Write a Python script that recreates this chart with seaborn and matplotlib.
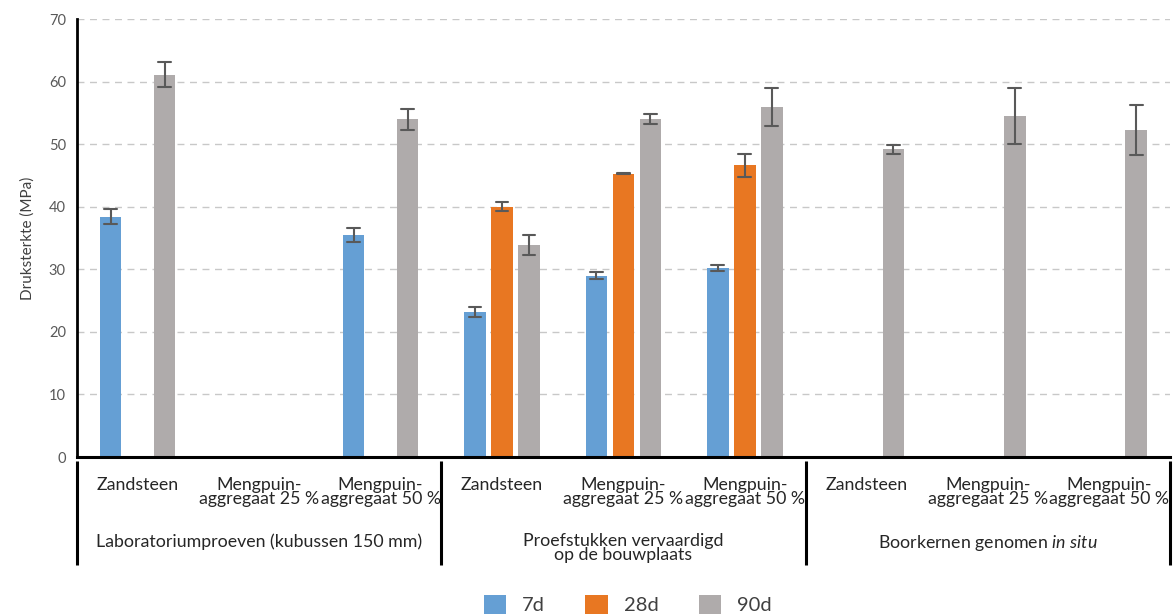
import numpy as np
import pandas as pd
import seaborn as sns
import matplotlib.pyplot as plt

nan = np.nan

# category labels
groups = ["Laboratoriumproeven (kubussen 150 mm)",
          "Proefstukken vervaardigd\nop de bouwplaats",
          "Boorkernen genomen $\\it{in\\ situ}$"]
materials = ["Zandsteen", "Mengpuin-\naggregaat 25 %", "Mengpuin-\naggregaat 50 %"]
ages = ["7d", "28d", "90d"]

# mean compressive strength (MPa), 9 categories = 3 groups x 3 materials
mean_7d = [38.4, nan, 35.5, 23.2, 29.0, 30.2, nan, nan, nan]
mean_28d = [nan, nan, nan, 40.0, 45.3, 46.6, nan, nan, nan]
mean_90d = [61.1, nan, 54.0, 33.9, 54.0, 56.0, 49.2, 54.5, 52.3]

# half width of error bars
err_7d = [1.2, nan, 1.1, 0.8, 0.55, 0.45, nan, nan, nan]
err_28d = [nan, nan, nan, 0.75, 0.1, 1.8, nan, nan, nan]
err_90d = [2.0, nan, 1.7, 1.65, 0.85, 3.05, 0.7, 4.4, 4.0]

colors = ["#659FD4", "#E87722", "#AFABAB"]

cats = [f"{g}|{m}" for g in range(3) for m in range(3)]

rows = []
for age, means, errs in zip(ages, [mean_7d, mean_28d, mean_90d], [err_7d, err_28d, err_90d]):
    for c, m, e in zip(cats, means, errs):
        if np.isnan(m):
            continue
        # two points per bar -> mean = value, min/max = error range
        rows.append({"cat": c, "age": age, "val": m - e})
        rows.append({"cat": c, "age": age, "val": m + e})
df = pd.DataFrame(rows)

sns.set_style("white")
plt.rcParams['font.family'] = ['Lato', 'DejaVu Sans']
plt.rcParams['mathtext.fontset'] = 'custom'
plt.rcParams['mathtext.rm'] = 'Lato'
plt.rcParams['mathtext.it'] = 'Lato:italic'

fig = plt.figure(figsize=(11.73, 6.14), dpi=100)
ax = fig.add_axes([0.0656, 0.2557, 0.9318, 0.7133])

sns.barplot(data=df, x="cat", y="val", hue="age", order=cats, hue_order=ages,
            palette=colors, estimator="mean",
            errorbar=lambda v: (v.min(), v.max()),
            width=0.667, gap=0.2, capsize=0.32,
            err_kws={"color": "#595959", "linewidth": 1.5},
            linewidth=0, saturation=1, ax=ax)

ax.set_xlim(-0.5, 8.5)
ax.set_ylim(0, 70)
ax.set_yticks(range(0, 71, 10))
ax.tick_params(axis="y", labelsize=10.5, labelcolor="#595959", length=0, pad=8)
ax.set_xticks([])
ax.set_xlabel("")
ax.set_ylabel("Druksterkte (MPa)", fontsize=11, color="#404040", labelpad=10)
ax.grid(axis="y", color="#C8C8C8", linestyle=(0, (5, 4)), linewidth=1)
ax.set_axisbelow(True)
sns.despine(ax=ax, top=True, right=True)
ax.spines["left"].set_linewidth(2)
ax.spines["bottom"].set_linewidth(2.2)
ax.spines["left"].set_color("black")
ax.spines["bottom"].set_color("black")

trans = ax.get_xaxis_transform()
txt_color = "#262626"

# separators of the multi-level axis
for xb in [-0.5, 2.5, 5.5, 8.5]:
    ax.plot([xb, xb], [-0.008, -0.247], transform=trans, color="black",
            linewidth=2.2, clip_on=False, solid_capstyle="butt")

for i, c in enumerate(cats):
    m = materials[i % 3]
    ax.text(i, -0.046, m, transform=trans, ha="center", va="top",
            fontsize=12.8, color=txt_color, linespacing=0.8)

for g, label in enumerate(groups):
    ax.text(3 * g + 1, -0.174, label, transform=trans, ha="center", va="top",
            fontsize=12.8, color=txt_color, linespacing=0.8)

handles, labels = ax.get_legend_handles_labels()
ax.legend(handles, labels, loc="center", bbox_to_anchor=(0.504, -0.337),
          ncol=3, frameon=False, fontsize=14.5, handlelength=1.1,
          handleheight=1.1, handletextpad=0.8, columnspacing=2.0,
          labelcolor="#404040", borderpad=0)

fig.savefig("out.png", dpi=100)
